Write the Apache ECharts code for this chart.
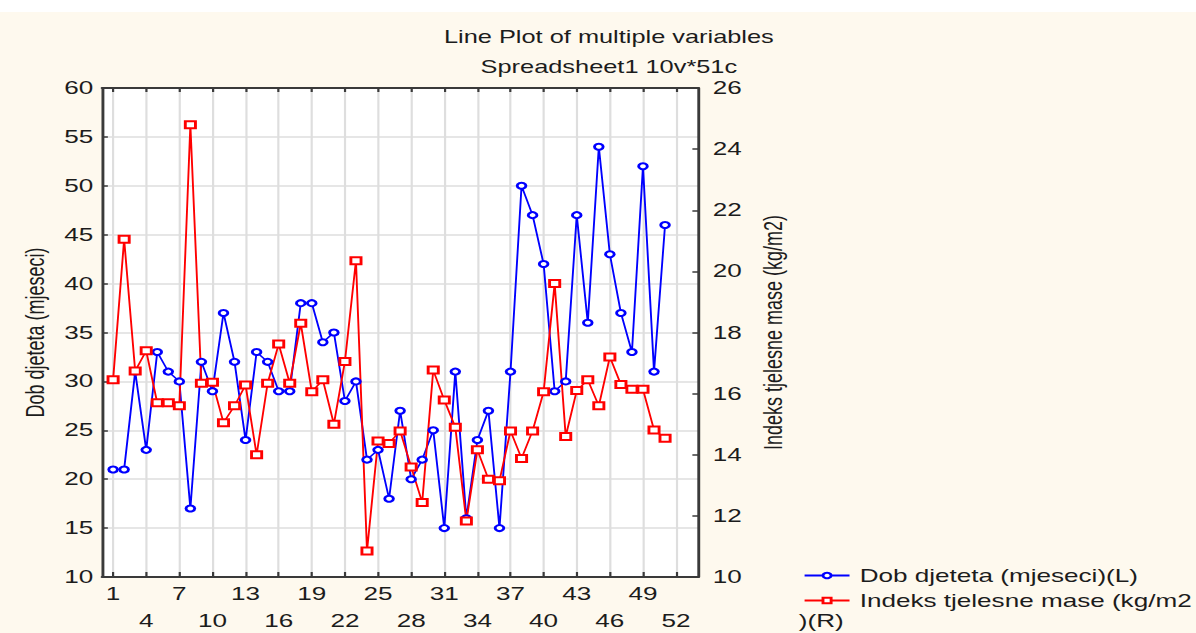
<!DOCTYPE html>
<html>
<head>
<meta charset="utf-8">
<script src="https://cdn.jsdelivr.net/npm/echarts@6/dist/echarts.min.js"></script>
<style>
  html, body { margin: 0; padding: 0; background: #ffffff; overflow: hidden; }
  #wrap { position: absolute; left: 0; top: 0; width: 825px; height: 633px;
          transform: scaleX(1.4497); transform-origin: 0 0; }
  #chart { width: 825px; height: 633px; }
</style>
</head>
<body>
<div id="wrap"><div id="chart"></div></div>
<script>
// ---- data ----
const caseNumbers = [1,2,3,4,5,6,7,8,9,10,11,12,13,14,15,16,17,18,19,20,
  21,22,23,24,25,26,27,28,29,30,31,32,33,34,35,36,37,38,39,40,
  41,42,43,44,45,46,47,48,49,50,51];
const dobDjeteta = [21,21,31,23,33,31,30,17,32,29,
  37,32,24,33,32,29,29,38,38,34,
  35,28,30,22,23,18,27,20,22,25,
  15,31,16,24,27,15,31,50,47,42,
  29,30,47,36,54,43,37,33,52,31,46];
const indeksMase = [16.45,21.05,16.74,17.4,15.7,15.7,15.6,24.8,16.34,16.37,
  15.05,15.6,16.28,14.0,16.34,17.62,16.34,18.3,16.06,16.45,
  15.0,17.05,20.35,10.85,14.45,14.37,14.78,13.6,12.44,16.77,
  15.79,14.9,11.83,14.16,13.2,13.15,14.78,13.88,14.78,16.06,
  19.6,14.6,16.1,16.45,15.6,17.2,16.3,16.14,16.14,14.81,14.54];
const xTickLabels = [1,4,7,10,13,16,19,22,25,28,31,34,37,40,43,46,49,52];
const xAxisMin = 0, xAxisMax = 54;
const leftTicks = { min: 10, max: 60, step: 5 };
const rightTicks = { min: 10, max: 26, step: 2 };
const seriesNames = ['Dob djeteta (mjeseci)(L)', 'Indeks tjelesne mase (kg/m2)(R)'];
const axisTitles = ['Dob djeteta (mjeseci)', 'Indeks tjelesne mase (kg/m2)'];
const titleText = 'Line Plot of multiple variables';
const subTitleText = 'Spreadsheet1 10v*51c';

// ---- build ----
const axisSlots = [];
for (let i = xAxisMin; i <= xAxisMax; i++) axisSlots.push(String(i));
const tickSet = new Set(xTickLabels);
const isTick = (idx) => tickSet.has(Number(axisSlots[idx]));

const FONT = '"Liberation Sans", Arial, sans-serif';
const TXT = '#1c1c1c';
const AXC = '#3a3a3a';
const GRIDC = '#dedede';

const chart = echarts.init(document.getElementById('chart'), null, { renderer: 'svg' });

const xBase = {
  type: 'category',
  data: axisSlots,
  boundaryGap: false,
  axisLine: { show: true, onZero: false, lineStyle: { color: AXC, width: 2 } },
};

chart.setOption({
  backgroundColor: 'transparent',
  animation: false,
  textStyle: { fontFamily: FONT },
  title: [
    { text: titleText, left: 415, top: 23, textAlign: 'center',
      textStyle: { fontFamily: FONT, fontSize: 17.5, fontWeight: 'normal', color: TXT } },
    { text: subTitleText, left: 415, top: 53, textAlign: 'center',
      textStyle: { fontFamily: FONT, fontSize: 17.5, fontWeight: 'normal', color: TXT } }
  ],
  graphic: [
    { type: 'rect', z: -10, silent: true, shape: { x: 0, y: 12, width: 825, height: 621 },
      style: { fill: '#fef9ee' } },
    { type: 'text', left: 551, top: 612, silent: true,
      style: { text: ')(R)', font: '18px ' + FONT, fill: TXT } }
  ],
  legend: {
    orient: 'vertical', left: 554, top: 565,
    itemWidth: 31, itemHeight: 7, itemGap: 4, padding: 0,
    data: seriesNames,
    formatter: (n) => n === seriesNames[1] ? 'Indeks tjelesne mase (kg/m2' : n,
    textStyle: { fontFamily: FONT, fontSize: 18, color: TXT, lineHeight: 21, padding: [0, 0, 0, 2] }
  },
  grid: {
    left: 70.4, right: 343.4, top: 88, bottom: 56,
    show: true, backgroundColor: '#ffffff', borderWidth: 0,
    outerBoundsMode: 'none'
  },
  xAxis: [
    Object.assign({}, xBase, {
      position: 'bottom',
      axisTick: { show: true, inside: true, length: 5, interval: (i) => isTick(i),
        lineStyle: { color: AXC, width: 1.5 } },
      axisLabel: {
        interval: (i) => isTick(i), margin: 3, lineHeight: 27,
        fontFamily: FONT, fontSize: 18, color: TXT,
        formatter: (v) => {
          const k = xTickLabels.indexOf(Number(v));
          return k % 2 === 1 ? '\n' + v : v;
        }
      },
      splitLine: { show: true, interval: (i) => isTick(i), lineStyle: { color: GRIDC, width: 1.5 } }
    }),
    Object.assign({}, xBase, {
      position: 'top',
      axisTick: { show: true, inside: true, length: 4, interval: (i) => isTick(i),
        lineStyle: { color: AXC, width: 1.5 } },
      axisLabel: { show: false },
      splitLine: { show: false }
    })
  ],
  yAxis: [
    {
      type: 'value', position: 'left',
      min: leftTicks.min, max: leftTicks.max, interval: leftTicks.step,
      name: axisTitles[0], nameLocation: 'middle', nameRotate: 90, nameGap: 37,
      nameTextStyle: { fontFamily: FONT, fontSize: 18, color: TXT },
      axisLine: { show: true, lineStyle: { color: AXC, width: 2 } },
      axisTick: { show: true, inside: true, length: 4, lineStyle: { color: AXC, width: 1.5 } },
      axisLabel: { margin: 6, fontFamily: FONT, fontSize: 18, color: TXT },
      splitLine: { show: true, lineStyle: { color: GRIDC, width: 1.5 } }
    },
    {
      type: 'value', position: 'right',
      min: rightTicks.min, max: rightTicks.max, interval: rightTicks.step,
      name: axisTitles[1], nameLocation: 'middle', nameRotate: 90, nameGap: 43,
      nameTextStyle: { fontFamily: FONT, fontSize: 18, color: TXT },
      axisLine: { show: true, lineStyle: { color: AXC, width: 2 } },
      axisTick: { show: true, inside: true, length: 4, lineStyle: { color: AXC, width: 1.5 } },
      axisLabel: { margin: 10, fontFamily: FONT, fontSize: 18, color: TXT },
      splitLine: { show: false }
    }
  ],
  series: [
    {
      name: seriesNames[0], type: 'line', xAxisIndex: 0, yAxisIndex: 0,
      data: caseNumbers.map((c, i) => [String(c), dobDjeteta[i]]),
      symbol: 'emptyCircle', symbolSize: 6, showAllSymbol: true,
      lineStyle: { color: '#0000ff', width: 1.3 },
      itemStyle: { color: '#0000ff', borderWidth: 1.2 }
    },
    {
      name: seriesNames[1], type: 'line', xAxisIndex: 0, yAxisIndex: 1,
      data: caseNumbers.map((c, i) => [String(c), indeksMase[i]]),
      symbol: 'emptyRect', symbolSize: 7, showAllSymbol: true,
      lineStyle: { color: '#ff0000', width: 1.3 },
      itemStyle: { color: '#ff0000', borderWidth: 1.2 }
    }
  ]
});
</script>
</body>
</html>
